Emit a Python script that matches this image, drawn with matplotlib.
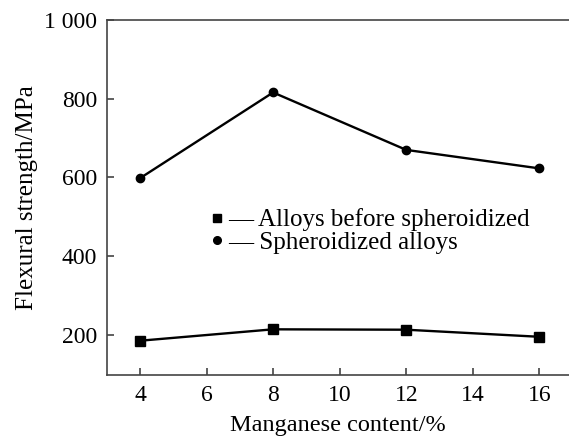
import matplotlib.pyplot as plt
from matplotlib.lines import Line2D
from matplotlib.ticker import FuncFormatter

plt.rcParams['font.family'] = ['Liberation Serif', 'DejaVu Serif']

mn = [4, 8, 12, 16]
before = [185, 214, 213, 195]
spher = [598, 816, 670, 623]
xticks = [4, 6, 8, 10, 12, 14, 16]
yticks = [200, 400, 600, 800, 1000]

fig = plt.figure(figsize=(5.69, 4.36), dpi=100)
ax = fig.add_axes([0.1875, 0.140, 0.8125, 0.814])

ax.plot(mn, before, color='black', marker='s', markersize=6.5, linewidth=1.7)
ax.plot(mn, spher, color='black', marker='o', markersize=6, linewidth=1.7)

ax.set_xlim(3, 16.89)
ax.set_ylim(98, 1000)
ax.set_xticks(xticks)
ax.set_yticks(yticks)
ax.yaxis.set_major_formatter(FuncFormatter(lambda v, p: '1 000' if v == 1000 else '%d' % v))
ax.tick_params(direction='in', length=5, width=1.2, color='#444444', labelsize=17, pad=7)

for s in ['left', 'bottom', 'top']:
    ax.spines[s].set_color('#444444')
    ax.spines[s].set_linewidth(1.2)
ax.spines['right'].set_visible(False)

ax.set_xlabel('Manganese content/%', fontsize=17.5, labelpad=7)
ax.set_ylabel('Flexural strength/MPa', fontsize=18, labelpad=4)

handles = [Line2D([], [], color='black', marker='s', markersize=6, linestyle='none'),
           Line2D([], [], color='black', marker='o', markersize=5.5, linestyle='none')]
labels = ['\u2014 Alloys before spheroidized', '\u2014 Spheroidized alloys']
ax.legend(handles, labels, loc='center left', bbox_to_anchor=(0.2, 0.405), frameon=False,
          fontsize=18, handlelength=0.6, handletextpad=0.15, labelspacing=0.0,
          borderaxespad=0)

fig.savefig('out.png', dpi=100)
